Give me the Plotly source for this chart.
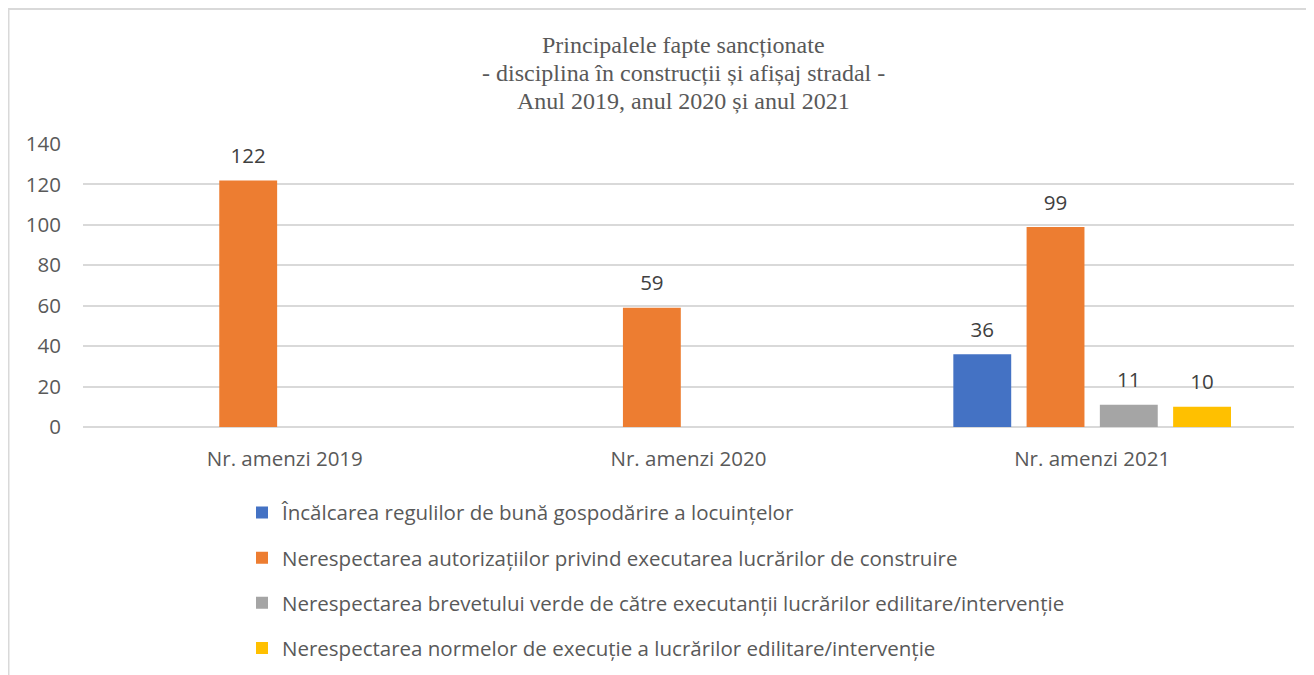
import plotly.graph_objects as go

categories = ["Nr. amenzi 2019", "Nr. amenzi 2020", "Nr. amenzi 2021"]
series_names = [
    "Încălcarea regulilor de bună gospodărire a locuințelor",
    "Nerespectarea autorizațiilor privind executarea lucrărilor de construire",
    "Nerespectarea brevetului verde de către executanții lucrărilor edilitare/intervenție",
    "Nerespectarea normelor de execuție a lucrărilor edilitare/intervenție",
]
values_s1 = [None, None, 36]
values_s2 = [122, 59, 99]
values_s3 = [None, None, 11]
values_s4 = [None, None, 10]
colors = ["#4472C4", "#ED7D31", "#A5A5A5", "#FFC000"]
title_lines = [
    "Principalele fapte sancționate",
    "- disciplina în construcții și afișaj stradal -",
    "Anul 2019, anul 2020 și anul 2021",
]

FONT = "Open Sans"
FS = 20.5
W, H = 1306, 667
ML, MR, MT, MB = 75, 20, 136, 248
PH = H - MT - MB
PW = W - ML - MR
BARGAP = 0.274

all_vals = [values_s1, values_s2, values_s3, values_s4]
fig = go.Figure()
for i, (name, vals) in enumerate(zip(series_names, all_vals)):
    fig.add_trace(go.Bar(
        x=categories, y=vals, name=name,
        marker=dict(color=colors[i], line=dict(width=0)),
        legendgroup=f"g{i}", hoverinfo="x+y+name",
    ))
# data labels: grouped text-scatter aligned with the bar slots
for i, vals in enumerate(all_vals):
    fig.add_trace(go.Scatter(
        x=categories, y=vals, mode="markers+text",
        text=[("" if v is None else str(v)) for v in vals],
        textposition="top center",
        textfont=dict(family=FONT, size=FS, color="#404040"),
        marker=dict(size=18, opacity=0),
        showlegend=False, hoverinfo="skip", cliponaxis=False,
    ))

annotations = []
for k, line in enumerate(title_lines):
    yc = 37 + 28 * k  # line centres in figure pixels
    annotations.append(dict(
        text=line, xref="paper", yref="paper",
        x=(675 - ML) / PW, y=1 + (MT - yc) / PH,
        xanchor="center", yanchor="middle", showarrow=False,
        font=dict(family="Liberation Serif", size=24, color="#595959"),
    ))

fig.update_layout(
    width=W, height=H,
    paper_bgcolor="white", plot_bgcolor="white",
    margin=dict(l=ML, r=MR, t=MT, b=MB, autoexpand=False),
    barmode="group", bargap=BARGAP, bargroupgap=0.21,
    scattermode="group", scattergap=BARGAP,
    xaxis=dict(showgrid=False, showline=False, ticks="", ticklabelstandoff=17,
               tickfont=dict(family=FONT, size=FS, color="#595959")),
    yaxis=dict(range=[0, 140], dtick=20, showgrid=True, gridcolor="#D9D9D9", gridwidth=1.5,
               zeroline=True, zerolinecolor="#D9D9D9", zerolinewidth=1.5,
               showline=False, ticks="", ticklabelstandoff=21,
               tickfont=dict(family=FONT, size=FS, color="#595959")),
    legend=dict(orientation="v", x=(234 - ML) / PW, xanchor="left", y=-0.232, yanchor="top",
                font=dict(family=FONT, size=FS, color="#595959"),
                tracegroupgap=15.5, bgcolor="rgba(0,0,0,0)"),
    showlegend=True,
    annotations=annotations,
    shapes=[dict(type="rect", xref="paper", yref="paper",
                 x0=(0.5 - ML) / PW, x1=1.2, y0=-1.5, y1=1 + (MT - 1) / PH,
                 line=dict(color="#D9D9D9", width=2), layer="below")],
)

fig.write_html("out.html")
